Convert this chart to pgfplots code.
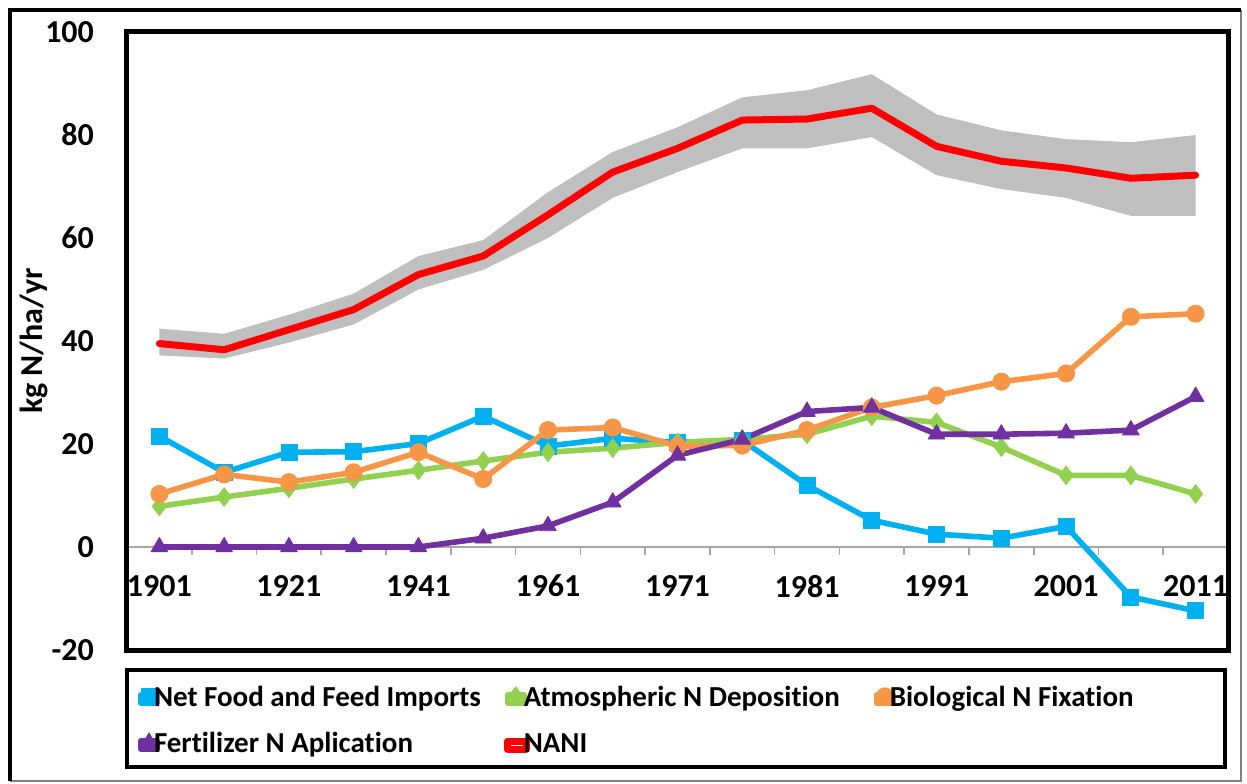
\documentclass[border=0pt]{standalone}
\usepackage{pgfplots}
\usepackage{pgfplotstable}
\pgfplotsset{compat=1.18}
\usepackage{fontspec}
\setmainfont{Carlito}[Ligatures=NoCommon]
\definecolor{cblue}{HTML}{00B0F0}
\definecolor{cgreen}{HTML}{92D050}
\definecolor{corange}{HTML}{F79646}
\definecolor{cpurple}{HTML}{7030A0}
\definecolor{cband}{HTML}{BFBFBF}
\definecolor{cred}{HTML}{FF0000}
\definecolor{caxis}{HTML}{A6A6A6}
\pgfplotsset{
  markleg/.style={legend image code/.code={\path (0pt,-2pt) rectangle (8.2pt,2pt); \draw[##1, only marks, mark size=#1] plot coordinates {(4.1pt,1.5pt)};}},
  lineleg/.style={legend image code/.code={\path (0pt,-2pt) rectangle (9.4pt,2pt); \draw[##1, line width=3pt] (0.2pt,1.5pt) -- (9.2pt,1.5pt);}},
}
\pgfplotstableread{
idx blue green orange purple nani
0  21.5  7.9 10.3  0.0 39.5
1  14.5  9.7 14.1  0.0 38.3
2  18.4 11.4 12.6  0.0 42.2
3  18.5 13.2 14.5  0.0 46.1
4  20.1 14.9 18.4  0.0 52.9
5  25.4 16.7 13.2  1.7 56.5
6  19.6 18.4 22.7  4.1 64.5
7  21.1 19.2 23.2  8.7 72.8
8  20.3 20.3 19.6 17.8 77.4
9  20.7 20.9 19.7 20.9 82.9
10 12.0 21.9 22.7 26.3 83.1
11  5.2 25.4 27.1 27.1 85.2
12  2.5 24.2 29.4 21.9 77.8
13  1.7 19.4 32.1 21.9 74.9
14  4.0 13.9 33.7 22.1 73.6
15 -9.7 13.9 44.7 22.7 71.6
16 -12.4 10.3 45.3 29.2 72.2
}\datatable
\begin{document}
\begin{tikzpicture}
\useasboundingbox (0,0) rectangle (623.5pt,391.5pt);
\draw[line width=0.6pt, gray] (620.5pt,386.5pt) -- (620.5pt,1pt) -- (5pt,1pt);
\draw[line width=2.2pt, black] (5pt,1pt) -- (5pt,386.5pt) -- (620.5pt,386.5pt);
\begin{axis}[
  at={(63.5pt,66.5pt)}, anchor=south west,
  scale only axis, width=550.5pt, height=309pt,
  xmin=-0.5, xmax=16.5, ymin=-20, ymax=100,
  axis x line*=middle, axis y line*=left,
  xtick={0,2,...,16},
  xticklabels={1901,1921,1941,1961,1971,1981,1991,2001,2011},
  minor xtick={-0.5,0.5,...,16.5},
  major x tick style={draw=none},
  minor x tick style={draw=caxis, line width=0.8pt},
  minor tick length=4pt,
  major tick length=4pt,
  tick align=outside,
  x axis line style={draw=caxis, line width=0.8pt},
  ytick={-20,0,...,100},
  yticklabels={-20,0,20,40,60,80,100},
  y tick style={draw=none},
  y axis line style={draw=none},
  tick label style={font=\fontsize{16}{19}\selectfont\bfseries},
  yticklabel style={xshift=-9pt},
  xticklabel style={yshift=-6.5pt},
  ylabel={kg N/ha/yr},
  every axis y label/.style={at={(rel axis cs:-0.0845,0.5)}, rotate=90, anchor=center, font=\fontsize{16}{19}\selectfont\bfseries},
  clip=false,
  legend columns=3,
  legend cell align=left,
  legend style={draw=none, fill=none, at={(rel axis cs:0.01,-0.1165)}, anchor=west,
    inner sep=0pt, outer sep=0pt, column sep=0pt, row sep=10pt,
    font=\fontsize{14.5}{17}\selectfont\bfseries,
    nodes={inner sep=0pt, text height=10pt, text depth=3pt}},
  every axis plot/.append style={line width=2.8pt, line join=round, mark options={line width=0.4pt}},
]
\addplot[draw=none, fill=cband, forget plot] coordinates {
(0,42.4) (1,41.4) (2,45.1) (3,49.2) (4,56.5) (5,59.6) (6,68.9) (7,76.7) (8,81.5)
(9,87.3) (10,88.7) (11,91.8) (12,84.0) (13,80.9) (14,79.2) (15,78.6) (16,80.0)
(16,64.3) (15,64.3) (14,67.8) (13,69.5) (12,72.2) (11,79.6) (10,77.4) (9,77.4)
(8,72.8) (7,67.8) (6,60.0) (5,53.8) (4,50.0) (3,43.2) (2,39.7) (1,36.6) (0,37.2)
} -- cycle;
\addplot[color=cblue, mark=square*, mark size=4pt, markleg=3.9pt]
  table[x=idx, y=blue] {\datatable};
\addlegendentry{\hspace*{-3pt}\makebox[175pt][l]{Net Food and Feed Imports}}
\addplot[color=cgreen, mark=diamond*, mark size=4.7pt, markleg=4.6pt]
  table[x=idx, y=green] {\datatable};
\addlegendentry{\hspace*{-3pt}\makebox[175pt][l]{Atmospheric N Deposition}}
\addplot[color=corange, mark=*, mark size=4.3pt, markleg=4.1pt]
  table[x=idx, y=orange] {\datatable};
\addlegendentry{\hspace*{-3pt}\makebox[175pt][l]{Biological N Fixation}}
\addplot[color=cpurple, mark=triangle*, mark size=4.8pt, markleg=4.6pt]
  table[x=idx, y=purple] {\datatable};
\addlegendentry{\hspace*{-3pt}\makebox[175pt][l]{Fertilizer N Aplication}}
\addplot[color=cred, line width=3.5pt, line cap=round, lineleg]
  table[x=idx, y=nani] {\datatable};
\addlegendentry{\hspace*{-3pt}NANI}
\draw[line width=2.5pt, black] (rel axis cs:0,0) rectangle (rel axis cs:1,1);
\draw[line width=2pt, black] (rel axis cs:0,-0.0324) rectangle (rel axis cs:0.9973,-0.1893);
\end{axis}
\end{tikzpicture}
\end{document}
